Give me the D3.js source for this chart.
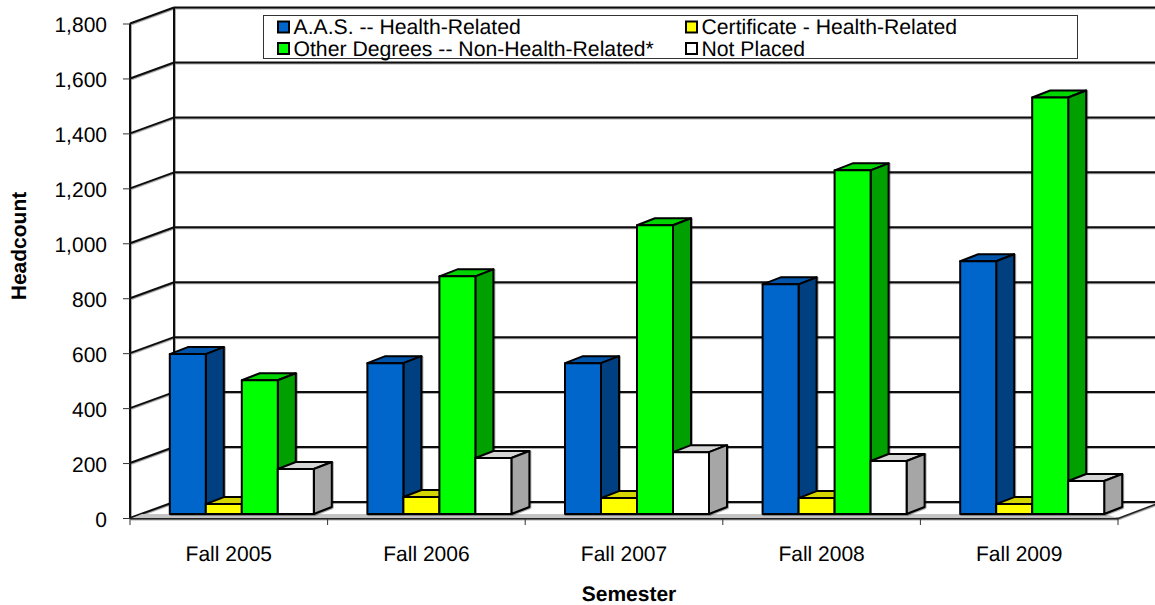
<!DOCTYPE html>
<html>
<head>
<meta charset="utf-8">
<script src="https://cdn.jsdelivr.net/npm/d3@7"></script>
<style>
  html, body { margin: 0; padding: 0; background: #fff; }
  svg { display: block; font-family: "Liberation Sans", Arial, sans-serif; text-rendering: geometricPrecision; }
</style>
</head>
<body>
<svg width="1155" height="605"></svg>
<script>
const semesters = ["Fall 2005", "Fall 2006", "Fall 2007", "Fall 2008", "Fall 2009"]
const seriesNames = ["A.A.S. -- Health-Related", "Certificate - Health-Related", "Other Degrees -- Non-Health-Related*", "Not Placed"]
const aas = [582, 549, 549, 836, 920]
const certificate = [36, 62, 58, 58, 36]
const otherDegrees = [487, 865, 1051, 1251, 1516]
const notPlaced = [164, 204, 225, 193, 120]
const yTicks = [0, 200, 400, 600, 800, 1000, 1200, 1400, 1600, 1800]

const allSeries = [aas, certificate, otherDegrees, notPlaced]
const frontColors = ["#0066cc", "#ffff00", "#00ff00", "#ffffff"]
const topColors = ["#0055aa", "#d5d500", "#00d500", "#d5d5d5"]
const sideColors = ["#004080", "#a0a000", "#00a000", "#a6a6a6"]

const svg = d3.select("svg")
const depthX = 44, depthY = 16
const barDepthX = 18, barDepthY = 7

const x = d3.scaleBand().domain(semesters).range([130, 1118])
const y = d3.scaleLinear().domain([0, 1800]).range([518, 23.5])

// soft grey edge the original has under its lines
const defs = svg.append("defs")
const blur = defs.append("filter").attr("id", "soft").attr("x", "-5%").attr("y", "-5%").attr("width", "110%").attr("height", "110%")
blur.append("feDropShadow").attr("dx", 0.8).attr("dy", 0.8).attr("stdDeviation", 0.7).attr("flood-color", "#000").attr("flood-opacity", 0.4)

const walls = svg.append("g").attr("filter", "url(#soft)")

// gridlines on the back wall, and their run along the side wall
walls.selectAll("line.grid").data(yTicks).enter().append("line")
  .attr("class", "grid")
  .attr("x1", 130 + depthX).attr("x2", 1155)
  .attr("y1", d => y(d) - depthY).attr("y2", d => y(d) - depthY)
  .attr("stroke", "#111").attr("stroke-width", 2)
walls.selectAll("line.side").data(yTicks).enter().append("line")
  .attr("class", "side")
  .attr("x1", 130).attr("x2", 130 + depthX)
  .attr("y1", d => y(d)).attr("y2", d => y(d) - depthY)
  .attr("stroke", "#111").attr("stroke-width", 2)
walls.append("line")
  .attr("x1", 130).attr("x2", 130).attr("y1", y(0)).attr("y2", y(1800))
  .attr("stroke", "#111").attr("stroke-width", 2)
walls.append("line")
  .attr("x1", 130 + depthX).attr("x2", 130 + depthX).attr("y1", y(0) - depthY).attr("y2", y(1800) - depthY)
  .attr("stroke", "#111").attr("stroke-width", 2)

// grey strip of floor showing in front of the bars
svg.append("path")
  .attr("d", `M132,${y(0)}L142,${y(0) - 4}H1105L1118,${y(0)}Z`)
  .attr("fill", "#c4c4c4")

// front edge of the floor
walls.append("line")
  .attr("x1", 130).attr("x2", 1118).attr("y1", y(0) + 0.5).attr("y2", y(0) + 0.5)
  .attr("stroke", "#222").attr("stroke-width", 2)
walls.append("line")
  .attr("x1", 1118).attr("x2", 1155).attr("y1", y(0) + 0.5).attr("y2", y(0) - 13.5)
  .attr("stroke", "#222").attr("stroke-width", 1.5)

// axes
const yAxis = d3.axisLeft(y).tickValues(yTicks).tickFormat(d3.format(",")).tickSize(7).tickPadding(16)
const yG = svg.append("g").attr("transform", "translate(130,0)").call(yAxis)
yG.select(".domain").remove()
yG.selectAll("line").attr("stroke", "#333")
yG.selectAll("text")
  .attr("x", -23)
  .attr("font-size", 21).attr("fill", "#000").attr("dy", "0.4em")

const xAxis = d3.axisBottom(x).tickSizeOuter(0).tickSize(0).tickPadding(27)
const xG = svg.append("g").attr("transform", `translate(0,${y(0) + 1})`).call(xAxis)
xG.select(".domain").remove()
xG.selectAll("text").attr("font-size", 21).attr("fill", "#000")
// category ticks sit between the groups
xG.selectAll("line.sep").data(d3.range(semesters.length + 1)).enter().append("line")
  .attr("class", "sep")
  .attr("x1", i => x.range()[0] + i * x.bandwidth()).attr("x2", i => x.range()[0] + i * x.bandwidth())
  .attr("y1", 0).attr("y2", 6)
  .attr("stroke", "#333")

// bars: left to right so each one covers the side of the one before
const barWidth = 36
const barLeft = 39.8
const y0 = y(0) - 4
const h = d => y(0) - y(d)

const bars = svg.append("g").attr("stroke", "#000").attr("stroke-width", 2).attr("stroke-linejoin", "round").attr("filter", "url(#soft)")
semesters.forEach((sem, i) => {
  allSeries.forEach((vals, s) => {
    const left = x(sem) + barLeft + s * barWidth
    const right = left + barWidth
    const top = y0 - h(vals[i])
    const g = bars.append("g")
    g.append("path")
      .attr("d", `M${left},${top}L${left + barDepthX},${top - barDepthY}H${right + barDepthX}L${right},${top}Z`)
      .attr("fill", topColors[s])
    g.append("path")
      .attr("d", `M${right},${top}L${right + barDepthX},${top - barDepthY}V${y0 - barDepthY}L${right},${y0}Z`)
      .attr("fill", sideColors[s])
    g.append("rect")
      .attr("x", left).attr("y", top).attr("width", barWidth).attr("height", h(vals[i]))
      .attr("fill", frontColors[s])
  })
})

// legend
const legend = svg.append("g")
legend.append("rect")
  .attr("x", 263.5).attr("y", 15.5).attr("width", 814).attr("height", 43)
  .attr("fill", "#fff").attr("stroke", "#333").attr("stroke-width", 1)
const legendX = [278, 686, 278, 686]
const legendY = [27, 27, 48.5, 48.5]
const legendItems = legend.selectAll("g").data(seriesNames).enter().append("g")
  .attr("transform", (d, i) => `translate(${legendX[i]},${legendY[i]})`)
legendItems.append("rect")
  .attr("x", 0).attr("y", -5.5).attr("width", 11).attr("height", 11)
  .attr("fill", (d, i) => frontColors[i]).attr("stroke", "#000").attr("stroke-width", 2)
legendItems.append("text")
  .attr("x", 15.5).attr("y", 7)
  .attr("font-size", 21.2).attr("fill", "#000")
  .text(d => d)

// axis titles
svg.append("text")
  .attr("transform", "translate(26,246) rotate(-90)")
  .attr("text-anchor", "middle").attr("font-size", 21).attr("font-weight", "bold")
  .text("Headcount")
svg.append("text")
  .attr("x", 629).attr("y", 600.5)
  .attr("text-anchor", "middle").attr("font-size", 21).attr("font-weight", "bold")
  .text("Semester")
</script>
</body>
</html>
